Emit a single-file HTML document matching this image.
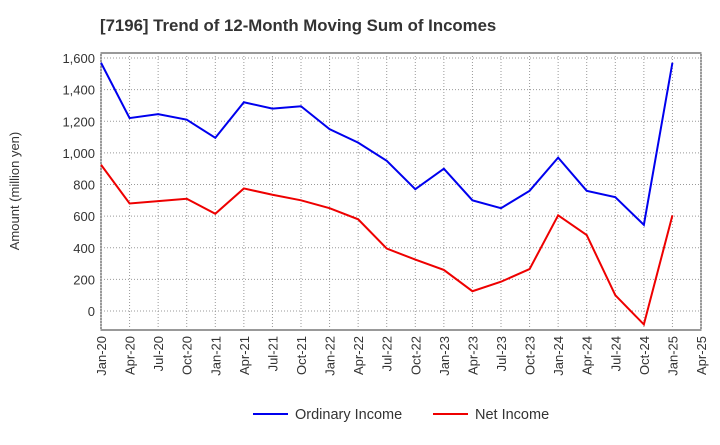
<!DOCTYPE html>
<html><head><meta charset="utf-8"><style>
body{margin:0;background:#fff;font-family:"Liberation Sans",sans-serif;}
</style></head><body>
<svg width="720" height="440" xmlns="http://www.w3.org/2000/svg">
<text x="100" y="31" font-size="16.8" font-weight="bold" fill="#333">[7196]  Trend of 12-Month Moving Sum of Incomes</text>
<g id="grid"></g><g id="axes"></g><g id="series"></g>
<text transform="translate(19,191) rotate(-90)" text-anchor="middle" font-size="13" fill="#333">Amount (million yen)</text>
<g>
<line x1="253" y1="414" x2="288" y2="414" stroke="#0000ee" stroke-width="2"/>
<text x="295" y="419" font-size="14.5" fill="#333">Ordinary Income</text>
<line x1="433" y1="414" x2="468" y2="414" stroke="#ee0000" stroke-width="2"/>
<text x="475" y="419" font-size="14.5" fill="#333">Net Income</text>
</g>
</svg>
<script>
const xLabels=["Jan-20","Apr-20","Jul-20","Oct-20","Jan-21","Apr-21","Jul-21","Oct-21","Jan-22","Apr-22","Jul-22","Oct-22","Jan-23","Apr-23","Jul-23","Oct-23","Jan-24","Apr-24","Jul-24","Oct-24","Jan-25","Apr-25"];
const yTicks=[0,200,400,600,800,1000,1200,1400,1600];
const ordinary=[1570,1220,1245,1210,1095,1320,1280,1295,1150,1065,950,770,900,700,650,760,970,760,720,545,1570];
const net=[925,680,695,710,615,775,735,700,650,580,395,325,260,125,185,265,605,480,100,-85,605];
const NS="http://www.w3.org/2000/svg";
const L=101,R=701,T=53,B=330;
const x=i=>L+i*(R-L)/(xLabels.length-1);
const y=v=>311-v*(311-58)/1600;
function mk(tag,attrs,parent){const e=document.createElementNS(NS,tag);for(const k in attrs)e.setAttribute(k,attrs[k]);parent.appendChild(e);return e;}
const grid=document.getElementById('grid'),axes=document.getElementById('axes'),ser=document.getElementById('series');
mk('rect',{x:L,y:T,width:R-L,height:B-T,fill:'none',stroke:'#333'},grid);
xLabels.forEach((lab,i)=>{
 const g=mk('line',{x1:x(i),y1:T,x2:x(i),y2:B,stroke:'#999','stroke-dasharray':'1,2'},grid);
 
 
 const t=mk('text',{transform:`translate(${x(i)+5},${B+6}) rotate(-90)`,'text-anchor':'end','font-size':13,fill:'#333'},axes);
 t.textContent=lab;
 
 
});
yTicks.forEach(v=>{
 const g=mk('line',{x1:L,y1:y(v),x2:R,y2:y(v),stroke:'#999','stroke-dasharray':'1,2'},grid);
 
 
 const t=mk('text',{x:L-6,y:y(v)+5,'text-anchor':'end','font-size':13,fill:'#333'},axes);
 t.textContent=v.toLocaleString('en-US');
 
 
});
function line(data,color,name){
 const p=mk('polyline',{points:data.map((v,i)=>x(i)+','+y(v)).join(' '),fill:'none',stroke:color,'stroke-width':2},ser);
 
 
}
line(ordinary,'#0000ee','ordinary-income-line');
line(net,'#ee0000','net-income-line');
</script>
</body></html>
